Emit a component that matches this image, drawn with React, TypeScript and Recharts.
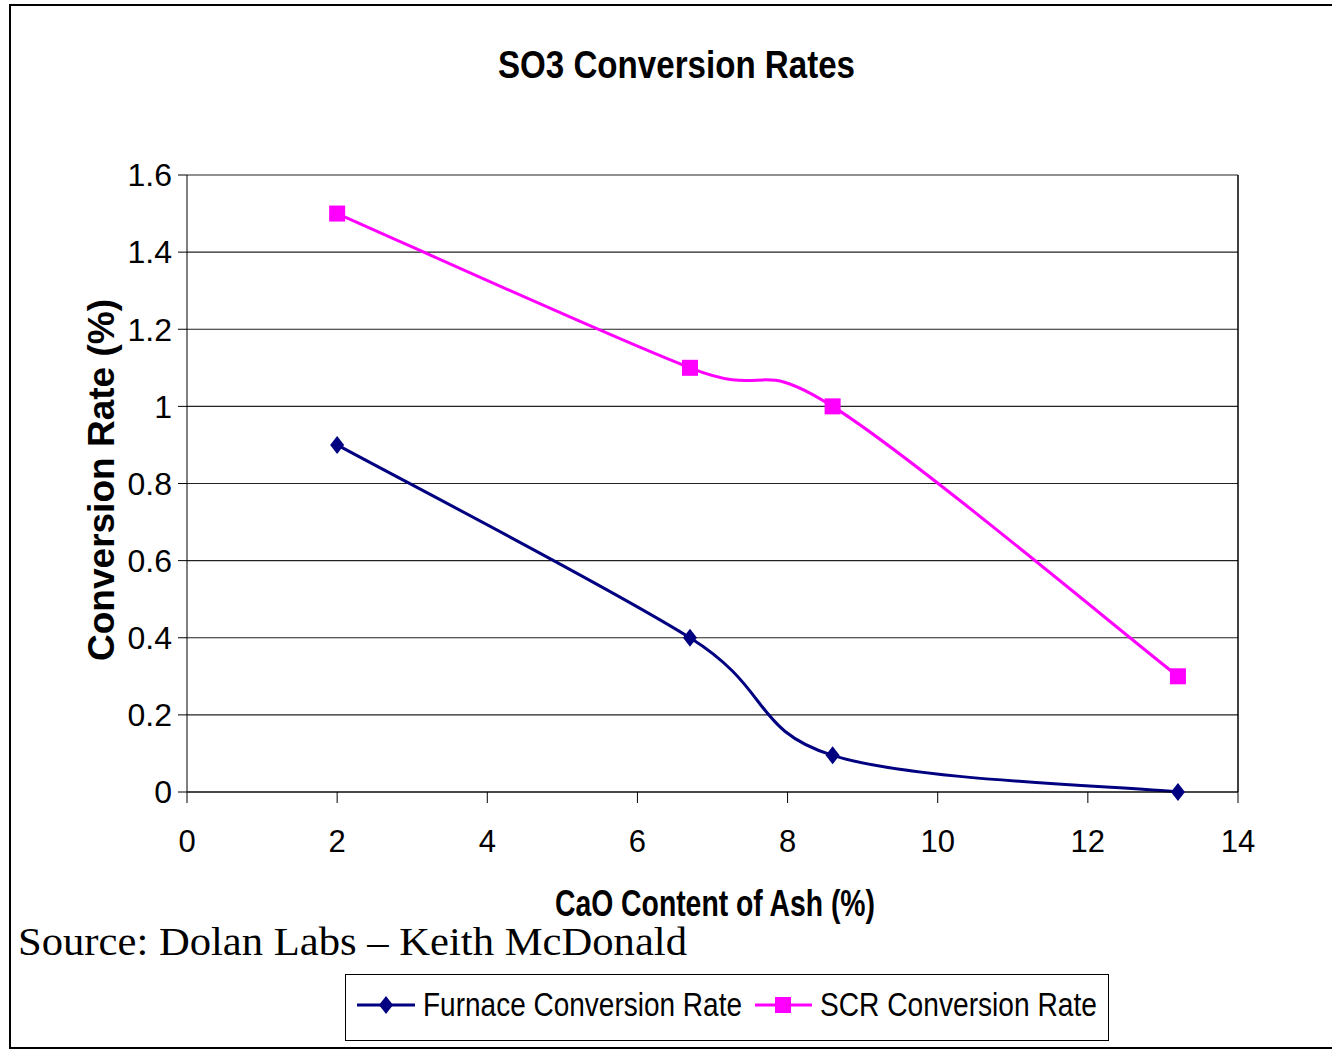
import React from "react"
import {
	LineChart,
	Line,
	XAxis,
	YAxis,
	CartesianGrid,
	ReferenceLine,
} from "recharts"

const caoContent = [2, 6.7, 8.6, 13.2]
const furnaceRate = [0.9, 0.4, 0.095, 0]
const scrRate = [1.5, 1.1, 1.0, 0.3]
const xTicks = [0, 2, 4, 6, 8, 10, 12, 14]
const yTicks = [0, 0.2, 0.4, 0.6, 0.8, 1, 1.2, 1.4, 1.6]

const data = caoContent.map((cao, i) => ({
	cao,
	furnace: furnaceRate[i],
	scr: scrRate[i],
}))

const NAVY = "#000080"
const MAGENTA = "#FF00FF"
const FONT = "'Liberation Sans', Arial, sans-serif"

// excel-style smoothed line (catmull-rom as bezier)
function excelSmooth(context: any) {
	let pts: number[][] = []
	return {
		areaStart() {},
		areaEnd() {},
		lineStart() {
			pts = []
		},
		point(x: number, y: number) {
			pts.push([+x, +y])
		},
		lineEnd() {
			if (!pts.length) return
			context.moveTo(pts[0][0], pts[0][1])
			for (let i = 0; i < pts.length - 1; i++) {
				const p0 = pts[i - 1] || pts[i]
				const p1 = pts[i]
				const p2 = pts[i + 1]
				const p3 = pts[i + 2] || pts[i + 1]
				context.bezierCurveTo(
					p1[0] + (p2[0] - p0[0]) / 6,
					p1[1] + (p2[1] - p0[1]) / 6,
					p2[0] - (p3[0] - p1[0]) / 6,
					p2[1] - (p3[1] - p1[1]) / 6,
					p2[0],
					p2[1]
				)
			}
		},
	}
}

const Diamond = (props: any) => {
	const { cx, cy } = props
	if (cx == null || cy == null) return null
	return (
		<path
			key={`d-${cx}`}
			d={`M${cx},${cy - 9} L${cx + 7},${cy} L${cx},${cy + 9} L${cx - 7},${cy} Z`}
			fill={NAVY}
		/>
	)
}

const Square = (props: any) => {
	const { cx, cy } = props
	if (cx == null || cy == null) return null
	return <rect key={`s-${cx}`} x={cx - 8} y={cy - 8} width={16} height={16} fill={MAGENTA} />
}

export default function App() {
	return (
		<div
			style={{
				position: "absolute",
				left: 0,
				top: 0,
				width: 1332,
				height: 1051,
				background: "#fff",
				overflow: "hidden",
			}}
		>
			<div
				style={{
					position: "absolute",
					left: 9,
					top: 4,
					width: 1323,
					height: 1045,
					boxSizing: "border-box",
					borderTop: "2px solid #000",
					borderLeft: "2px solid #000",
					borderBottom: "2px solid #000",
				}}
			/>
			<div style={{ position: "absolute", left: 0, top: 0 }}>
				<LineChart
					width={1332}
					height={1051}
					data={data}
					margin={{ top: 175, right: 94, bottom: 209, left: 127 }}
				>
					<CartesianGrid vertical={false} stroke="#222" strokeWidth={1.2} />
					<XAxis
						dataKey="cao"
						type="number"
						domain={[0, 14]}
						ticks={xTicks}
						interval={0}
						height={50}
						tickSize={11}
						tickMargin={27}
						stroke="#000"
						tick={{ fill: "#000", fontSize: 31, fontFamily: FONT }}
					/>
					<YAxis
						type="number"
						domain={[0, 1.6]}
						ticks={yTicks}
						interval={0}
						width={60}
						tickSize={9}
						tickMargin={6}
						stroke="#000"
						tick={{ fill: "#000", fontSize: 32, fontFamily: FONT }}
					/>
					<ReferenceLine x={14} stroke="#000" strokeWidth={1.5} />
					<Line
						dataKey="furnace"
						type={excelSmooth as any}
						stroke={NAVY}
						strokeWidth={3}
						dot={Diamond}
						activeDot={false}
						isAnimationActive={false}
					/>
					<Line
						dataKey="scr"
						type={excelSmooth as any}
						stroke={MAGENTA}
						strokeWidth={3}
						dot={Square}
						activeDot={false}
						isAnimationActive={false}
					/>
				</LineChart>
			</div>
			<svg
				width={1332}
				height={1051}
				style={{ position: "absolute", left: 0, top: 0, pointerEvents: "none" }}
				fontFamily={FONT}
			>
				<text
					x={498}
					y={78}
					fontSize={38}
					fontWeight="bold"
					textLength={357}
					lengthAdjust="spacingAndGlyphs"
				>
					SO3 Conversion Rates
				</text>
				<text
					transform="translate(114,480) rotate(-90)"
					textAnchor="middle"
					fontSize={36}
					fontWeight="bold"
					textLength={362}
					lengthAdjust="spacingAndGlyphs"
				>
					Conversion Rate  (%)
				</text>
				<text
					x={555}
					y={916}
					fontSize={36}
					fontWeight="bold"
					textLength={320}
					lengthAdjust="spacingAndGlyphs"
				>
					CaO Content of Ash (%)
				</text>
				<text
					x={18}
					y={955}
					fontSize={39}
					fontFamily="'Liberation Serif', 'Times New Roman', serif"
					textLength={669}
					lengthAdjust="spacingAndGlyphs"
				>
					Source: Dolan Labs – Keith McDonald
				</text>
				<g>
					<rect x={345.5} y={974.5} width={763} height={66} fill="#fff" stroke="#000" strokeWidth={1} />
					<line x1={357} y1={1005} x2={415} y2={1005} stroke={NAVY} strokeWidth={3} />
					<path d="M386,996 L393,1005 L386,1014 L379,1005 Z" fill={NAVY} />
					<text x={423} y={1016} fontSize={34} textLength={319} lengthAdjust="spacingAndGlyphs">
						Furnace Conversion Rate
					</text>
					<line x1={755} y1={1005} x2={812} y2={1005} stroke={MAGENTA} strokeWidth={3} />
					<rect x={775} y={997} width={16} height={16} fill={MAGENTA} />
					<text x={820} y={1016} fontSize={34} textLength={277} lengthAdjust="spacingAndGlyphs">
						SCR Conversion Rate
					</text>
				</g>
			</svg>
		</div>
	)
}
